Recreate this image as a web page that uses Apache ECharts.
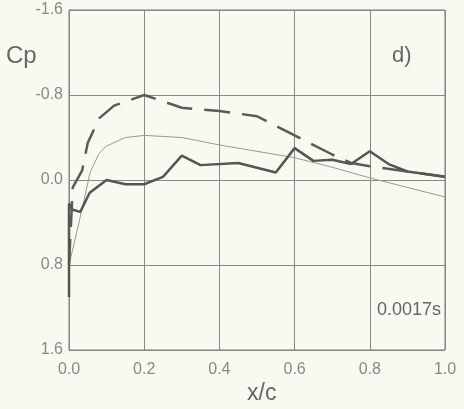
<!DOCTYPE html>
<html>
<head>
<meta charset="utf-8">
<script src="https://cdn.jsdelivr.net/npm/echarts@6/dist/echarts.min.js"></script>
<style>
  html, body { margin: 0; padding: 0; background: #f8f9f0; }
  #chart { width: 464px; height: 409px; }
</style>
</head>
<body>
<div id="chart"></div>
<script>
// Pressure coefficient along the chord, snapshot d)
const xTicks = [0.0, 0.2, 0.4, 0.6, 0.8, 1.0];
const cpTicks = [-1.6, -0.8, 0.0, 0.8, 1.6];

// Thick solid curve
const solidX  = [0, 0, 0.01, 0.03, 0.055, 0.1, 0.15, 0.2, 0.25, 0.3, 0.35, 0.45, 0.55, 0.6, 0.65, 0.7, 0.75, 0.8, 0.85, 0.9, 1.0];
const solidCp = [1.1, 0.22, 0.28, 0.30, 0.12, 0.0, 0.04, 0.04, -0.03, -0.23, -0.14, -0.16, -0.07, -0.30, -0.18, -0.19, -0.15, -0.27, -0.15, -0.08, -0.03];

// Dashed curve
const dashX  = [0, 0.01, 0.035, 0.05, 0.08, 0.12, 0.2, 0.3, 0.4, 0.5, 0.6, 0.7, 0.75, 0.8, 0.9, 1.0];
const dashCp = [0.8, 0.07, -0.09, -0.35, -0.58, -0.70, -0.80, -0.68, -0.65, -0.60, -0.42, -0.24, -0.16, -0.13, -0.08, -0.03];

// Thin reference curve
const thinX  = [0, 0.02, 0.04, 0.056, 0.08, 0.1, 0.15, 0.2, 0.3, 0.4, 0.5, 0.6, 0.7, 0.8, 0.9, 1.0];
const thinCp = [0.8, 0.5, 0.19, -0.07, -0.25, -0.32, -0.40, -0.42, -0.40, -0.33, -0.27, -0.21, -0.12, -0.02, 0.07, 0.16];

const pairs = (xs, ys) => xs.map((x, i) => [x, ys[i]]);

const textColor = '#666';
const font = 'Liberation Sans';
const chart = echarts.init(document.getElementById('chart'));
chart.setOption({
  backgroundColor: '#f8f9f0',
  animation: false,
  grid: { left: 69, right: 19, top: 10, bottom: 59, show: true, borderColor: '#777', borderWidth: 1 },
  xAxis: {
    type: 'value', min: xTicks[0], max: xTicks[xTicks.length - 1], interval: 0.2,
    axisLine: { show: false }, axisTick: { show: false },
    splitLine: { show: true, lineStyle: { color: '#888', width: 1 } },
    axisLabel: { color: '#888', fontSize: 16, fontFamily: font, margin: 12,
      formatter: v => v.toFixed(1) }
  },
  yAxis: {
    type: 'value', inverse: true, min: cpTicks[0], max: cpTicks[cpTicks.length - 1], interval: 0.8,
    axisLine: { show: false }, axisTick: { show: false },
    splitLine: { show: true, lineStyle: { color: '#888', width: 1 } },
    axisLabel: { color: '#888', fontSize: 16, fontFamily: font, margin: 6,
      formatter: v => v.toFixed(1) }
  },
  series: [
    { type: 'line', data: pairs(thinX, thinCp), symbol: 'none',
      lineStyle: { color: '#9a9a96', width: 1 } },
    { type: 'line', data: pairs(dashX, dashCp), symbol: 'none',
      lineStyle: { color: '#5a5a58', width: 2.5, type: [26, 12] } },
    { type: 'line', data: pairs(solidX, solidCp), symbol: 'none',
      lineStyle: { color: '#555553', width: 2.5 } }
  ],
  graphic: [
    { type: 'text', left: 6, top: 44, style: { text: 'Cp', fill: textColor, fontSize: 24, fontFamily: font } },
    { type: 'text', left: 392, top: 45, style: { text: 'd)', fill: textColor, fontSize: 22, fontFamily: font } },
    { type: 'text', left: 377, top: 301, style: { text: '0.0017s', fill: textColor, fontSize: 18, fontFamily: font } },
    { type: 'text', left: 247, top: 382, style: { text: 'x/c', fill: textColor, fontSize: 23, fontFamily: font } }
  ]
});
</script>
</body>
</html>
